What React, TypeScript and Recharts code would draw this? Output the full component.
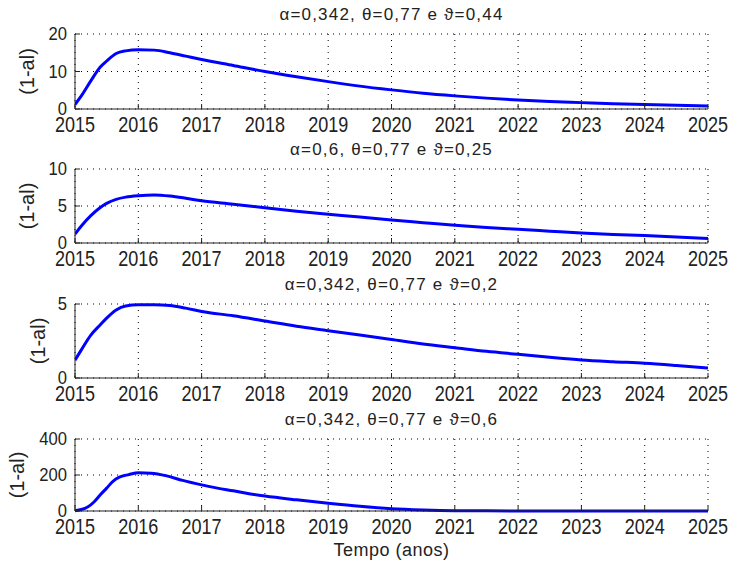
import { LineChart, Line, XAxis, YAxis, CartesianGrid } from "recharts";

// tick labels
const years = [2015, 2016, 2017, 2018, 2019, 2020, 2021, 2022, 2023, 2024, 2025];

const titles = [
  "α=0,342, θ=0,77 e ϑ=0,44",
  "α=0,6, θ=0,77 e ϑ=0,25",
  "α=0,342, θ=0,77 e ϑ=0,2",
  "α=0,342, θ=0,77 e ϑ=0,6",
];

// time samples (years)
const timeA = [
  2015, 2015.1, 2015.25, 2015.4, 2015.5, 2015.65, 2015.8, 2016, 2016.25, 2016.5,
  2016.75, 2017, 2017.5, 2018, 2018.5, 2019, 2019.5, 2020, 2020.5, 2021, 2021.5,
  2022, 2022.5, 2023, 2023.5, 2024, 2024.5, 2025,
];
const timeB = [
  2015, 2015.1, 2015.2, 2015.3, 2015.4, 2015.5, 2015.6, 2015.7, 2015.85, 2016,
  2016.2, 2016.45, 2016.7, 2017, 2017.25, 2017.5, 2017.75, 2018, 2018.5, 2019,
  2019.5, 2020, 2020.5, 2021, 2021.5, 2022, 2023, 2024, 2025,
];

// (1-al) per panel
const serie1 = [
  1.2, 3.5, 7.5, 11.2, 12.8, 14.8, 15.5, 15.8, 15.7, 15.0, 14.1, 13.2, 11.6, 10,
  8.6, 7.3, 6.1, 5.1, 4.2, 3.5, 2.9, 2.4, 2.0, 1.7, 1.4, 1.2, 1.0, 0.8,
];
const serie2 = [
  1.2, 2.3, 3.7, 4.8, 5.35, 5.9, 6.2, 6.4, 6.5, 6.35, 6.05, 5.7, 5.25, 4.75, 4.3,
  3.9, 3.5, 3.1, 2.75, 2.4, 2.1, 1.85, 1.6, 1.35, 1.15, 1.0, 0.8, 0.6,
];
const serie3 = [
  1.2, 1.9, 2.9, 3.6, 4.05, 4.6, 4.87, 4.95, 4.95, 4.9, 4.72, 4.5, 4.2, 3.85,
  3.5, 3.2, 2.9, 2.6, 2.3, 2.05, 1.8, 1.6, 1.4, 1.22, 1.1, 1.0, 0.85, 0.68,
];
const serie4 = [
  2, 8, 22, 50, 90, 127, 165, 188, 202, 212, 210, 195, 170, 145, 127, 112, 96, 83,
  62, 43, 26, 13, 6, 2, 1, 0.5, 0.3, 0.2, 0.1,
];

const yTicks1 = [0, 10, 20];
const yTicks2 = [0, 5, 10];
const yTicks3 = [0, 5];
const yTicks4 = [0, 200, 400];

const toRows = (t: number[], v: number[]) => t.map((x, i) => ({ t: x, v: v[i] }));

const panels = [
  { rows: toRows(timeA, serie1), ticks: yTicks1, top: 34, bottom: 109, labelX: 27 },
  { rows: toRows(timeA, serie2), ticks: yTicks2, top: 169, bottom: 243, labelX: 27 },
  { rows: toRows(timeA, serie3), ticks: yTicks3, top: 304, bottom: 378, labelX: 38 },
  { rows: toRows(timeB, serie4), ticks: yTicks4, top: 439, bottom: 511, labelX: 17 },
];

const FONT = "'Liberation Sans', Arial, sans-serif";
const PAD = 16;

// matlab-ish tick labels, squeezed horizontally
function ScaledTick(props: any) {
  const { x, y, payload, textAnchor, verticalAnchor, size = 22, sx = 0.82 } = props;
  const dy =
    verticalAnchor === "start" ? "0.72em" : verticalAnchor === "middle" ? "0.36em" : "0";
  return (
    <g transform={`translate(${x},${y}) scale(${sx},1)`}>
      <text textAnchor={textAnchor} dy={dy} fontSize={size} fontFamily={FONT} fill="#222">
        {payload.value}
      </text>
    </g>
  );
}

function Panel({ p, title }: { p: (typeof panels)[number]; title: string }) {
  const h = p.bottom - p.top;
  const max = p.ticks[p.ticks.length - 1];
  return (
    <>
      <div
        style={{
          position: "absolute",
          left: 75,
          width: 633,
          top: p.top - 30,
          textAlign: "center",
          fontFamily: FONT,
          fontSize: 17,
          letterSpacing: 1.2,
          lineHeight: "22px",
          color: "#222",
        }}
      >
        {title}
      </div>
      <div style={{ position: "absolute", left: 0, top: p.top - PAD }}>
        <LineChart
          width={731}
          height={PAD + h + 40}
          data={p.rows}
          margin={{ top: PAD, right: 23, bottom: 0, left: 0 }}
        >
          <CartesianGrid stroke="#000" strokeDasharray="1 5" />
          <XAxis
            dataKey="t"
            type="number"
            domain={[2015, 2025]}
            ticks={years}
            interval={0}
            height={40}
            stroke="#222"
            tickSize={-5}
            tickMargin={12}
            tick={<ScaledTick size={22} sx={0.82} />}
            allowDataOverflow
          />
          <XAxis
            xAxisId="top"
            orientation="top"
            type="number"
            domain={[2015, 2025]}
            ticks={years}
            interval={0}
            height={0}
            stroke="#222"
            tickSize={-5}
            tickFormatter={() => ""}
          />
          <YAxis
            type="number"
            domain={[0, max]}
            ticks={p.ticks}
            interval={0}
            width={75}
            stroke="#222"
            tickSize={-5}
            tickMargin={13}
            tick={<ScaledTick size={17.5} sx={0.95} />}
            label={{
              value: "(1-al)",
              angle: -90,
              position: "insideLeft",
              offset: p.labelX,
              style: { textAnchor: "middle", fontSize: 20, fill: "#222", fontFamily: FONT },
            }}
          />
          <YAxis
            yAxisId="right"
            orientation="right"
            type="number"
            domain={[0, max]}
            ticks={p.ticks}
            interval={0}
            width={0}
            stroke="#222"
            tickSize={-5}
            tickFormatter={() => ""}
          />
          <Line
            dataKey="v"
            type="monotone"
            stroke="#0000ff"
            strokeWidth={3}
            dot={false}
            isAnimationActive={false}
          />
        </LineChart>
      </div>
    </>
  );
}

export default function App() {
  return (
    <div
      style={{
        position: "absolute",
        left: 0,
        top: 0,
        width: 731,
        height: 567,
        background: "#fff",
        overflow: "hidden",
      }}
    >
      {panels.map((p, i) => (
        <Panel key={i} p={p} title={titles[i]} />
      ))}
      <div
        style={{
          position: "absolute",
          left: 75,
          width: 633,
          top: 539,
          textAlign: "center",
          fontFamily: FONT,
          fontSize: 18,
          letterSpacing: 0.5,
          lineHeight: "22px",
          color: "#222",
        }}
      >
        Tempo (anos)
      </div>
    </div>
  );
}
